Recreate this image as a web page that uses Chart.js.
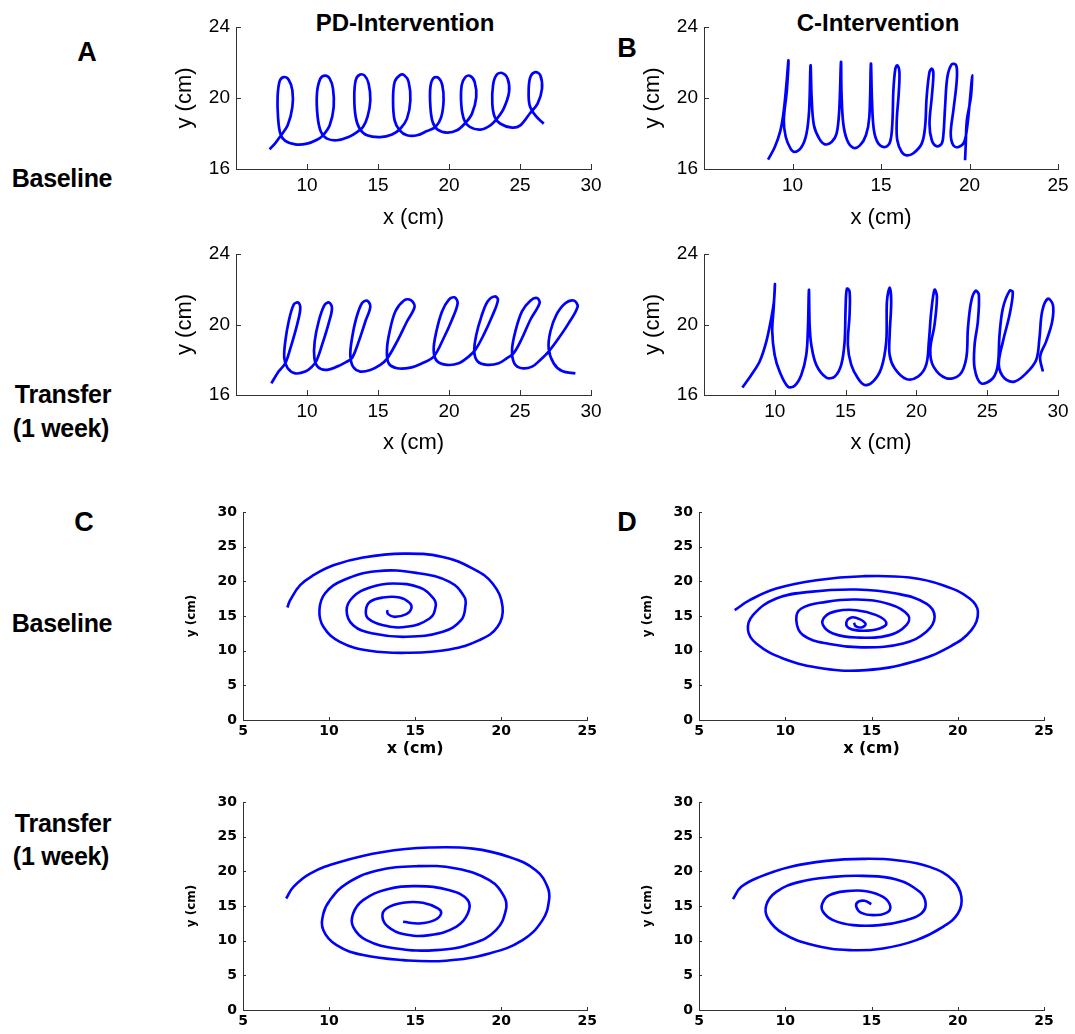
<!DOCTYPE html>
<html>
<head>
<meta charset="utf-8">
<title>PD / C intervention handwriting traces</title>
<script src="https://cdn.jsdelivr.net/npm/chart.js@4.4.0/dist/chart.umd.min.js"></script>
<style>
html, body { margin: 0; padding: 0; background: #fff; }
body { position: relative; width: 1075px; height: 1034px; overflow: hidden; font-family: "Liberation Sans", Arial, sans-serif; }
canvas { position: absolute; }
.lbl { position: absolute; transform: translate(-50%, -50%); font-weight: bold; color: #000; white-space: nowrap; }
.big { font-size: 27px; }
.row { font-size: 25px; letter-spacing: -0.3px; }
.ttl { font-size: 24px; }
</style>
</head>
<body>

<div class="lbl big" style="left:87px;top:52px">A</div>
<div class="lbl big" style="left:627px;top:48px">B</div>
<div class="lbl big" style="left:84px;top:522px">C</div>
<div class="lbl big" style="left:627px;top:522px">D</div>

<div class="lbl ttl" style="left:405px;top:23px">PD-Intervention</div>
<div class="lbl ttl" style="left:878px;top:23px">C-Intervention</div>

<div class="lbl row" style="left:62px;top:178px">Baseline</div>
<div class="lbl row" style="left:63px;top:394px">Transfer</div>
<div class="lbl row" style="left:61px;top:428px">(1 week)</div>
<div class="lbl row" style="left:62px;top:623px">Baseline</div>
<div class="lbl row" style="left:63px;top:823px">Transfer</div>
<div class="lbl row" style="left:61px;top:856px">(1 week)</div>

<script>
// traces, [x cm, y cm] in drawing order

const pdLoopsBaseline = [
  [7.37,17.11],[7.77,17.46],[8.12,17.84],[8.64,18.46],[8.97,19.49],[8.97,20.43],[8.71,21.03],[8.36,21.18],
  [8.08,20.96],[7.93,20.06],[7.96,18.93],[8.12,17.99],[8.47,17.58],[9.18,17.39],[10.0,17.43],[10.70,17.65],
  [11.13,17.90],[11.60,18.46],[11.88,19.49],[11.83,20.53],[11.60,21.09],[11.29,21.26],[10.94,21.09],[10.70,20.24],
  [10.75,18.93],[10.99,18.08],[11.41,17.71],[12.11,17.62],[12.93,17.80],[13.52,18.08],
  [13.94,18.37],[14.27,18.97],[14.46,19.87],[14.34,20.81],[14.06,21.26],[13.71,21.31],[13.43,21.00],[13.33,20.06],
  [13.43,18.93],[13.71,18.27],[14.23,17.90],[15.16,17.80],[15.99,17.95],
  [16.57,18.27],[17.04,18.84],[17.28,19.87],[17.16,20.90],[16.85,21.28],[16.53,21.28],[16.17,20.90],[16.06,19.87],
  [16.17,18.74],[16.53,18.18],[17.04,17.90],[17.75,17.90],[18.45,18.14],
  [19.04,18.37],[19.44,18.89],[19.62,19.87],[19.53,20.71],[19.27,21.13],[18.92,21.13],[18.69,20.62],[18.69,19.49],
  [18.85,18.65],[19.20,18.22],[19.86,18.05],[20.56,18.18],
  [21.15,18.59],[21.62,19.12],[21.92,20.06],[21.81,20.90],[21.50,21.24],[21.15,21.18],[20.89,20.71],[20.87,19.59],
  [21.08,18.74],[21.46,18.37],[22.21,18.22],[22.91,18.46],
  [23.38,18.84],[23.85,19.40],[24.23,20.34],[24.13,21.09],[23.73,21.41],[23.33,21.28],[23.10,20.71],[23.05,19.68],
  [23.22,18.93],[23.62,18.55],[24.44,18.33],[25.02,18.46],
  [25.73,19.17],[26.24,19.68],[26.55,20.53],[26.43,21.28],[26.08,21.46],[25.73,21.18],[25.61,20.43],[25.68,19.59],
  [26.08,19.02],[26.67,18.55]
]

const cLoopsBaseline = [
  [8.62,16.53],[9.00,17.24],[9.32,18.18],[9.51,19.31],[9.66,20.81],[9.77,22.12],[9.68,20.43],[9.51,18.74],
  [9.62,17.80],[9.89,17.15],[10.13,16.96],[10.51,17.24],[10.79,17.99],[10.94,19.31],[11.02,21.84],[11.08,20.06],
  [11.21,18.46],[11.51,17.71],[11.83,17.39],[12.21,17.52],[12.49,17.99],[12.64,19.31],[12.74,22.03],[12.77,20.24],
  [12.87,18.55],[13.09,17.62],[13.43,17.20],[13.81,17.33],[14.15,17.90],[14.34,18.93],[14.43,21.93],[14.49,19.87],
  [14.60,18.18],[14.85,17.43],[15.23,17.24],[15.51,17.52],[15.64,18.55],[15.70,20.43],[15.81,21.65],[15.92,21.84],
  [16.04,21.46],[16.00,20.24],[15.89,18.74],[15.92,17.62],[16.17,16.96],[16.45,16.77],[16.83,16.89],[17.30,17.43],
  [17.49,18.37],[17.58,20.06],[17.74,21.46],[17.87,21.65],[17.96,21.37],[17.87,20.06],[17.74,18.55],[17.87,17.62],
  [18.15,17.28],[18.43,17.43],[18.53,17.99],[18.62,19.49],[18.75,21.18],[19.00,21.90],[19.25,21.84],[19.28,20.99],
  [19.09,19.31],[18.94,17.99],[19.09,17.33],[19.38,17.24],[19.70,17.52],[19.89,18.55],[20.04,20.06],[20.15,21.28],
  [20.08,20.06],[19.85,18.74],[19.79,17.43],[19.75,16.49]
]

const pdLoopsTransfer = [
  [7.49,16.66],[8.00,17.33],[8.47,17.80],[8.83,18.65],[9.30,19.98],[9.53,20.93],[9.37,21.25],[9.06,21.12],
  [8.71,20.17],[8.47,19.03],[8.40,18.09],[8.64,17.52],[9.18,17.23],
  [9.88,17.33],[10.35,17.61],[10.66,17.93],[11.06,18.84],[11.53,20.08],[11.76,20.93],[11.55,21.25],[11.22,21.08],
  [10.82,20.17],[10.54,19.03],[10.52,18.09],[10.75,17.61],[11.29,17.42],
  [12.11,17.61],[12.82,17.90],[13.17,18.09],[13.64,19.03],[14.11,20.17],[14.46,21.02],[14.23,21.35],[13.87,21.21],
  [13.47,20.36],[13.17,19.22],[13.05,18.27],[13.24,17.61],[13.76,17.33],
  [14.46,17.42],[15.16,17.71],[15.63,18.05],[16.34,19.03],[17.04,20.17],[17.58,21.02],[17.28,21.40],[16.81,21.35],
  [16.22,20.74],[15.82,19.60],[15.63,18.56],[15.75,17.80],[16.34,17.52],
  [17.28,17.55],[18.10,17.80],[18.92,18.18],[19.62,19.22],[20.21,20.27],[20.61,21.21],[20.38,21.54],[19.98,21.40],
  [19.51,20.74],[19.11,19.60],[18.92,18.56],[19.15,17.93],[19.86,17.71],
  [20.68,17.80],[21.38,18.18],[21.85,18.56],[22.44,19.41],[23.03,20.45],[23.45,21.40],[23.22,21.59],[22.72,21.31],
  [22.28,20.45],[21.92,19.41],[21.78,18.46],[22.02,17.90],[22.68,17.71],
  [23.50,17.80],[24.08,18.09],[24.55,18.37],[25.14,19.22],[25.73,20.27],[26.38,21.21],[26.20,21.50],[25.73,21.35],
  [25.14,20.74],[24.67,19.60],[24.44,18.56],[24.60,17.80],[25.14,17.52],
  [25.85,17.61],[26.43,17.99],[27.02,18.46],[27.72,19.22],[28.43,20.08],[29.06,21.02],[28.78,21.36],[28.19,21.21],
  [27.56,20.55],[27.14,19.60],[27.02,18.65],[27.37,17.80],[27.96,17.36],[28.90,17.23]
]

const cLoopsTransfer = [
  [7.71,16.42],[8.34,17.14],[8.93,17.90],[9.40,19.03],[9.75,20.36],[9.94,21.31],[10.01,22.29],[9.92,20.93],
  [9.82,19.60],[9.99,18.27],[10.34,17.33],[10.93,16.47],[11.40,16.53],[11.87,17.14],[12.22,18.27],[12.34,19.79],
  [12.41,21.97],[12.46,19.98],[12.58,18.84],[12.93,17.71],[13.64,16.99],[14.22,17.04],[14.69,17.71],[14.93,19.03],
  [15.00,20.93],[15.09,22.03],[15.28,21.88],[15.28,20.55],[15.16,18.84],[15.40,17.71],[15.87,16.95],[16.34,16.57],
  [16.93,16.76],[17.52,17.52],[17.87,19.03],[17.92,21.31],[18.11,22.10],[18.22,21.31],[18.11,19.41],[18.11,18.27],
  [18.46,17.52],[19.28,16.91],[20.11,17.04],[20.69,17.71],[20.88,19.03],[21.05,20.74],[21.28,21.97],[21.45,21.59],
  [21.28,19.98],[20.98,18.56],[21.21,17.61],[22.11,16.95],[23.05,17.14],[23.52,18.09],[23.64,19.79],[23.87,21.31],
  [24.18,21.91],[24.41,21.69],[24.34,20.17],[24.11,18.84],[24.11,17.52],[24.58,16.66],[25.40,16.95],[25.75,17.71],
  [25.87,19.41],[26.11,20.93],[26.58,21.91],[26.81,21.84],[26.58,20.55],[26.11,19.03],[25.82,17.71],[26.22,16.95],
  [26.93,16.76],[27.75,17.23],[28.46,17.99],[28.69,19.22],[28.88,20.74],[29.28,21.46],[29.64,21.12],[29.59,20.17],
  [29.16,19.03],[28.74,18.18],[28.93,17.33]
]

const pdSpiralBaseline = [
  [7.58,16.23],[7.74,17.28],[8.32,19.44],[9.09,20.88],[10.25,22.32],[11.98,23.43],[14.3,24.0],[16.61,23.52],
  [18.35,21.84],[19.5,19.68],[20.08,16.32],[19.79,13.44],[18.73,11.52],[17.0,10.18],[14.68,9.70],[12.37,9.99],
  [10.63,11.28],[9.67,13.44],[9.44,15.84],[9.76,18.24],[10.82,20.16],[12.75,21.46],[15.07,21.22],[17.0,19.92],
  [17.86,17.76],[17.92,16.42],[17.67,14.4],[16.61,12.72],[14.49,12.0],[12.56,12.48],[11.4,13.68],[11.02,15.84],
  [11.4,17.76],[12.37,19.11],[13.72,19.68],[15.26,19.11],[16.07,17.52],[16.19,16.32],[15.84,14.64],[14.49,13.44],
  [13.14,13.68],[12.27,14.64],[12.14,15.84],[12.37,17.04],[13.14,17.67],[14.1,17.67],[14.68,16.9],[14.78,16.08],
  [14.49,15.27],[13.81,14.88],[13.43,15.27],[13.37,15.84]
]

const cSpiralBaseline = [
  [7.07,15.84],[7.94,17.28],[9.48,18.96],[11.8,20.16],[14.51,20.74],[17.21,20.55],[19.14,19.44],[20.69,17.52],
  [21.17,15.6],[20.79,12.96],[19.53,10.56],[17.41,8.4],[14.7,7.2],[12.19,7.44],[9.87,8.88],[8.32,11.04],
  [7.84,12.96],[8.13,15.12],[9.48,17.52],[11.42,18.48],[14.12,18.82],[16.44,18.24],[18.18,16.8],[18.66,14.88],
  [18.18,12.72],[16.83,11.04],[14.51,10.47],[12.57,10.95],[11.03,12.24],[10.64,14.4],[10.93,16.08],[12.38,17.04],
  [14.12,17.38],[16.05,16.7],[17.12,15.12],[17.02,13.68],[16.05,12.24],[14.12,11.9],[12.77,12.48],[12.19,13.68],
  [12.29,14.88],[12.96,15.7],[14.12,15.84],[15.28,15.12],[15.86,14.02],[15.47,13.2],[14.51,12.87],[13.73,13.2],
  [13.54,14.02],[13.83,14.79],[14.31,14.55],[14.66,13.83],[14.41,13.35],[14.08,13.54],[13.99,14.02]
]

const pdSpiralTransfer = [
  [7.51,16.08],[7.93,17.76],[8.9,19.68],[10.63,21.36],[13.14,22.8],[15.84,23.43],[18.35,23.28],[20.47,22.08],
  [22.01,20.16],[22.69,17.76],[22.78,15.84],[22.4,12.96],[21.24,10.08],[19.31,8.16],[16.8,7.11],[14.3,7.2],
  [11.98,7.92],[10.44,9.36],[9.67,11.52],[9.67,13.92],[10.05,15.84],[11.02,18.24],[12.75,20.07],[15.07,20.74],
  [17.38,20.4],[19.31,18.72],[20.18,16.32],[20.27,14.4],[19.7,11.52],[18.35,9.6],[16.22,8.64],[13.91,8.88],
  [12.17,10.08],[11.4,12.0],[11.4,13.92],[11.98,15.84],[13.33,17.38],[15.07,17.86],[17.0,17.28],[18.06,15.84],
  [18.06,13.92],[17.38,12.0],[15.84,10.8],[14.3,10.95],[13.43,12.0],[13.1,13.44],[13.33,14.64],[14.3,15.46],
  [15.45,15.46],[16.32,14.64],[16.51,13.92],[16.13,12.96],[15.26,12.48],[14.3,12.72]
]

const cSpiralTransfer = [
  [6.97,15.99],[7.45,17.76],[8.52,19.2],[10.26,20.64],[12.38,21.51],[14.51,21.8],[16.44,21.6],[18.37,20.64],
  [19.72,18.72],[20.21,16.32],[20.01,13.92],[19.14,12.0],[17.6,10.08],[15.67,8.88],[13.73,8.64],[11.61,9.36],
  [9.87,11.04],[9.0,13.2],[8.9,15.12],[9.48,17.04],[10.84,18.48],[12.77,19.2],[14.51,19.35],[16.44,18.82],
  [17.79,17.04],[18.14,15.36],[17.89,13.92],[17.02,12.96],[15.47,12.24],[13.93,12.24],[12.77,12.96],[12.19,14.16],
  [12.15,15.36],[12.57,16.56],[13.54,17.14],[14.7,17.14],[15.67,16.32],[16.09,14.98],[15.86,14.02],[15.09,13.68],
  [14.41,14.02],[14.12,14.88],[14.22,15.6],[14.6,15.75],[14.99,15.27]
]

const loopYTicks = [16, 20, 24]
const spiralYTicks = [0, 5, 10, 15, 20, 25, 30]

const blue = 'rgb(0,0,255)'
const axisColor = '#333'

// matlab style ticks pointing into the plot
const innerTicks = {
  id: 'innerTicks',
  afterDraw(chart, args, opts) {
    const {ctx, chartArea: a, scales: {x, y}} = chart
    ctx.save()
    ctx.strokeStyle = axisColor
    ctx.lineWidth = 1
    ctx.beginPath()
    x.ticks.forEach(t => {
      const px = Math.round(x.getPixelForValue(t.value)) + 0.5
      ctx.moveTo(px, a.bottom)
      ctx.lineTo(px, a.bottom - opts.len)
    })
    y.ticks.forEach(t => {
      const py = Math.round(y.getPixelForValue(t.value)) + 0.5
      ctx.moveTo(a.left, py)
      ctx.lineTo(a.left + opts.len, py)
    })
    ctx.stroke()
    ctx.restore()
  }
}

const topStyle = {
  tickFont: {family: 'Liberation Sans', size: 19},
  titleFont: {family: 'Liberation Sans', size: 22},
  yTitleFont: {family: 'Liberation Sans', size: 22},
  xPad: 5, yPad: 6, xTitlePad: 7, tickLen: 5, tension: 0.35, lineWidth: 2.7,
  yMin: 16, yMax: 24, yStep: 4, yTicks: loopYTicks,
  xLabel: v => v === 5 ? '' : v
}

const bottomStyle = {
  tickFont: {family: 'DejaVu Sans', size: 14, weight: 'bold'},
  titleFont: {family: 'DejaVu Sans', size: 16, weight: 'bold'},
  yTitleFont: {family: 'DejaVu Sans', size: 12, weight: 'bold'},
  xPad: 3, yPad: 6, xTitlePad: 0, tickLen: 3, tension: 0.42, lineWidth: 2.6,
  yMin: 0, yMax: 30, yStep: 5, yTicks: spiralYTicks,
  xLabel: v => v
}

const drawPanel = function(pos, area, points, st, ax){
  const cv = document.createElement('canvas')
  cv.width = pos.w
  cv.height = pos.h
  cv.style.left = pos.left + 'px'
  cv.style.top = pos.top + 'px'
  document.body.appendChild(cv)

  const yW = area.l - pos.left
  const xH = pos.top + pos.h - area.b

  new Chart(cv.getContext('2d'), {
    type: 'scatter',
    data: {
      datasets: [{
        data: points.map(p => ({x: p[0], y: p[1]})),
        showLine: true,
        borderColor: blue,
        borderWidth: st.lineWidth,
        pointRadius: 0,
        tension: st.tension,
        fill: false
      }]
    },
    options: {
      responsive: false,
      animation: false,
      layout: {padding: {top: area.t - pos.top, right: pos.left + pos.w - area.r, left: 0, bottom: 0}},
      plugins: {legend: {display: false}, tooltip: {enabled: false}, innerTicks: {len: st.tickLen}},
      scales: {
        x: {
          type: 'linear', min: ax.xMin, max: ax.xMax,
          afterFit: s => { s.height = xH },
          grid: {display: false, drawTicks: false},
          border: {color: axisColor, width: 1},
          ticks: {stepSize: 5, padding: st.xPad, font: st.tickFont, color: '#000', maxRotation: 0, autoSkip: false, callback: st.xLabel},
          title: {display: !!ax.xTitle, text: ax.xTitle, font: st.titleFont, color: '#000', padding: {top: 0, bottom: st.xTitlePad}}
        },
        y: {
          type: 'linear', min: st.yMin, max: st.yMax,
          afterFit: s => { s.width = yW },
          afterBuildTicks: s => { s.ticks = st.yTicks.map(v => ({value: v})) },
          grid: {display: false, drawTicks: false},
          border: {color: axisColor, width: 1},
          ticks: {padding: st.yPad, font: st.tickFont, color: '#000'},
          title: {display: true, text: 'y (cm)', font: st.yTitleFont, color: '#000', padding: {top: ax.yTitlePad, bottom: 0}}
        }
      }
    },
    plugins: [innerTicks]
  })
}

// top row: loop traces
drawPanel({left: 150, top: 8, w: 460, h: 230}, {l: 236, t: 27, r: 591, b: 169},
  pdLoopsBaseline, topStyle, {xMin: 5, xMax: 30, xTitle: 'x (cm)', yTitlePad: 22})
drawPanel({left: 620, top: 8, w: 455, h: 230}, {l: 704, t: 27, r: 1058, b: 169},
  cLoopsBaseline, topStyle, {xMin: 5, xMax: 25, xTitle: 'x (cm)', yTitlePad: 20})
drawPanel({left: 150, top: 236, w: 460, h: 227}, {l: 236, t: 254, r: 591, b: 395},
  pdLoopsTransfer, topStyle, {xMin: 5, xMax: 30, xTitle: 'x (cm)', yTitlePad: 22})
drawPanel({left: 620, top: 236, w: 455, h: 227}, {l: 704, t: 254, r: 1058, b: 395},
  cLoopsTransfer, topStyle, {xMin: 5, xMax: 30, xTitle: 'x (cm)', yTitlePad: 20})

// bottom row: spirals
drawPanel({left: 170, top: 495, w: 430, h: 263}, {l: 243, t: 512, r: 588, b: 720},
  pdSpiralBaseline, bottomStyle, {xMin: 5, xMax: 25, xTitle: 'x (cm)', yTitlePad: 15})
drawPanel({left: 630, top: 495, w: 430, h: 263}, {l: 699, t: 512, r: 1044, b: 720},
  cSpiralBaseline, bottomStyle, {xMin: 5, xMax: 25, xTitle: 'x (cm)', yTitlePad: 11})
drawPanel({left: 170, top: 785, w: 430, h: 249}, {l: 243, t: 802, r: 588, b: 1010},
  pdSpiralTransfer, bottomStyle, {xMin: 5, xMax: 25, xTitle: '', yTitlePad: 15})
drawPanel({left: 630, top: 785, w: 430, h: 249}, {l: 699, t: 802, r: 1044, b: 1010},
  cSpiralTransfer, bottomStyle, {xMin: 5, xMax: 25, xTitle: '', yTitlePad: 11})
</script>
</body>
</html>
